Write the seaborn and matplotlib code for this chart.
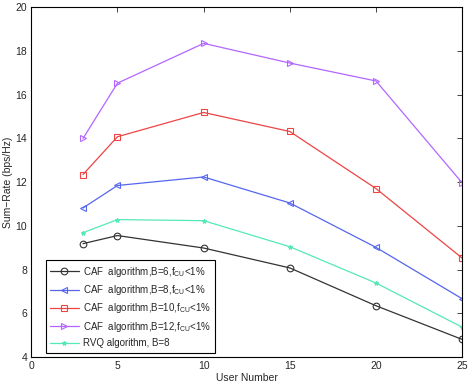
import numpy as np
import pandas as pd
import matplotlib
matplotlib.use("Agg")
import matplotlib.pyplot as plt
import seaborn as sns

# user numbers on the x axis
users = [3, 5, 10, 15, 20, 25]

# sum-rate values (bps/Hz)
caf_b6 = [9.19, 9.56, 8.99, 8.08, 6.35, 4.81]
caf_b8 = [10.82, 11.85, 12.24, 11.05, 9.02, 6.67]
caf_b10 = [12.35, 14.08, 15.19, 14.32, 11.71, 8.53]
caf_b12 = [14.00, 16.53, 18.35, 17.45, 16.63, 11.97]
rvq_b8 = [9.69, 10.29, 10.24, 9.05, 7.39, 5.37]

labels = [
    r"CAF  algorithm,B=6,$\mathregular{f_{CU}}$<1%",
    r"CAF  algorithm,B=8,$\mathregular{f_{CU}}$<1%",
    r"CAF  algorithm,B=10,$\mathregular{f_{CU}}$<1%",
    r"CAF  algorithm,B=12,$\mathregular{f_{CU}}$<1%",
    "RVQ algorithm, B=8",
]
series = [caf_b6, caf_b8, caf_b10, caf_b12, rvq_b8]
colors = ["#333333", "#5566ee", "#ee4444", "#b366ff", "#55e8b8"]
markers = ["o", "<", "s", ">", "*"]

sns.set_style("white")
plt.rcParams["font.family"] = ["Liberation Sans", "DejaVu Sans"]
plt.rcParams["mathtext.fontset"] = "custom"
plt.rcParams["mathtext.rm"] = "Liberation Sans"

fig = plt.figure(figsize=(4.74, 3.84), dpi=100)
ax = fig.add_axes([0.066, 0.070, 0.909, 0.911])

for vals, lab, c, m in zip(series, labels, colors, markers):
    df = pd.DataFrame({"users": users, "rate": vals})
    filled = m == "*"
    sns.lineplot(data=df, x="users", y="rate", ax=ax, color=c, lw=0.9,
                 marker=m, markersize=3.2 if filled else 4.8,
                 markerfacecolor=c if filled else "none",
                 markeredgecolor=c, markeredgewidth=0.8, label=lab)

ax.set_xlim(0, 25)
ax.set_ylim(4, 20)
ax.set_xticks([0, 5, 10, 15, 20, 25])
ax.set_yticks(np.arange(4, 21, 2))
ax.tick_params(direction="in", length=3.5, width=0.6, labelsize=7.5,
               top=True, right=True, pad=3)
for s in ax.spines.values():
    s.set_linewidth(0.8)
    s.set_color("black")
ax.set_xlabel("User Number", fontsize=7.5, labelpad=1)
ax.set_ylabel("Sum\u2212Rate (bps/Hz)", fontsize=7.5, labelpad=2)

leg = ax.legend(loc="lower left", bbox_to_anchor=(0.033, 0.013),
                fontsize=7, frameon=True, fancybox=False, edgecolor="black",
                framealpha=1, handlelength=3.0, handletextpad=0.4,
                labelspacing=0.45, borderpad=0.45, borderaxespad=0)
leg.get_frame().set_linewidth(0.8)

fig.savefig("out.png", dpi=100)
